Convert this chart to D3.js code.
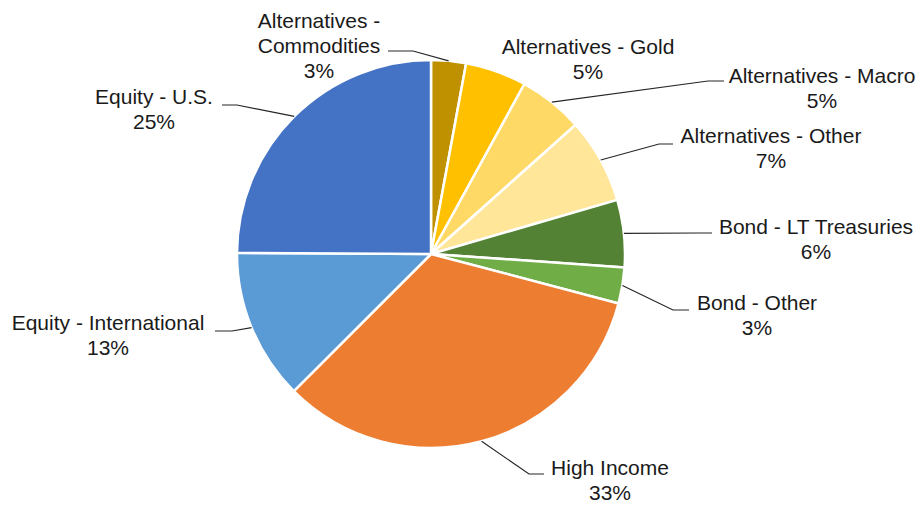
<!DOCTYPE html>
<html>
<head>
<meta charset="utf-8">
<script src="https://cdn.jsdelivr.net/npm/d3@7"></script>
<style>
  body { margin: 0; background: #fff; }
  text { font-family: "Liberation Sans", Arial, sans-serif; font-size: 21px; fill: #1a1a1a; }
</style>
</head>
<body>
<div id="pieChart"></div>
<script>
// slice data, clockwise from 12 o'clock
var categories = ["Alternatives - Commodities", "Alternatives - Gold", "Alternatives - Macro",
  "Alternatives - Other", "Bond - LT Treasuries", "Bond - Other", "High Income",
  "Equity - International", "Equity - U.S."];
var values = [2.9, 5.1, 5.4, 7.1, 5.6, 3.0, 33.4, 12.6, 24.9];
var colors = ["#BF9000", "#FFC000", "#FFD966", "#FFE699", "#548235", "#70AD47", "#ED7D31", "#5B9BD5", "#4472C4"];

// how each label is broken into lines (last line is the percent)
var labelLines = [["Alternatives -", "Commodities"], ["Alternatives - Gold"], ["Alternatives - Macro"],
  ["Alternatives - Other"], ["Bond - LT Treasuries"], ["Bond - Other"], ["High Income"],
  ["Equity - International"], ["Equity - U.S."]];

// label layout: text centre + first line y, leader elbow and end (null = no leader)
var labelLayout = [
  {x: 319, y: 21, elbow: [413, 51], end: [388, 51]},
  {x: 588, y: 47, elbow: null, end: null},
  {x: 822, y: 76, elbow: [708, 81], end: [724, 81]},
  {x: 771, y: 136, elbow: [659, 144], end: [673, 144]},
  {x: 816, y: 227, elbow: [700, 233], end: [712, 233]},
  {x: 757, y: 303, elbow: [673, 310], end: [689, 310]},
  {x: 610, y: 468, elbow: [529, 474], end: [544, 474]},
  {x: 108, y: 323, elbow: [232, 331], end: [215, 331]},
  {x: 154, y: 97, elbow: [237, 105], end: [222, 105]}
];

var width = 922, height = 506;
var cx = 431, cy = 254, radius = 194, lineGap = 25;

var svg = d3.select("#pieChart")
  .append("svg")
  .attr("width", width)
  .attr("height", height);

var data = categories.map(function(c, i) { return {name: c, value: values[i], color: colors[i], i: i}; });
var total = d3.sum(values);
var pct = d3.format(".0%");

var pie = d3.pie().sort(null).value(function(d) { return d.value; });
var arcs = pie(data);

var arc = d3.arc().innerRadius(0).outerRadius(radius);
var edgeArc = d3.arc().innerRadius(radius).outerRadius(radius);

var g = svg.append("g").attr("transform", "translate(" + cx + "," + cy + ")");

g.selectAll("path.slice")
  .data(arcs)
  .enter().append("path")
  .attr("class", "slice")
  .attr("d", arc)
  .attr("fill", function(d) { return d.data.color; })
  .attr("stroke", "#fff")
  .attr("stroke-width", 2.5)
  .attr("stroke-linejoin", "round");

// leader lines: from slice edge (mid angle) to elbow to label
svg.selectAll("polyline.leader")
  .data(arcs.filter(function(d) { return labelLayout[d.data.i].elbow; }))
  .enter().append("polyline")
  .attr("class", "leader")
  .attr("fill", "none")
  .attr("stroke", "#262626")
  .attr("stroke-width", 1.2)
  .attr("points", function(d) {
    var p = edgeArc.centroid(d);
    var L = labelLayout[d.data.i];
    return [[p[0] + cx, p[1] + cy], L.elbow, L.end].map(function(q) { return q.join(","); }).join(" ");
  });

// labels
var labels = svg.selectAll("text.label")
  .data(arcs)
  .enter().append("text")
  .attr("class", "label")
  .attr("text-anchor", "middle");

labels.each(function(d) {
  var L = labelLayout[d.data.i];
  var lines = labelLines[d.data.i].concat([pct(d.data.value / total)]);
  var t = d3.select(this);
  lines.forEach(function(s, k) {
    t.append("tspan")
      .attr("x", L.x)
      .attr("y", L.y + k * lineGap)
      .attr("dy", "0.35em")
      .text(s);
  });
});
</script>
</body>
</html>
